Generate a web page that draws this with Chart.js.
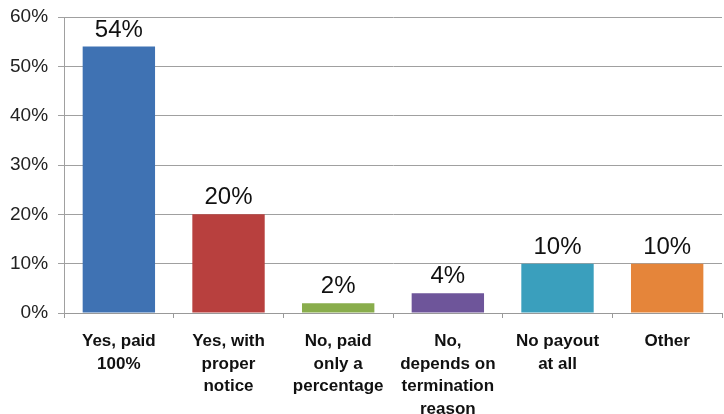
<!DOCTYPE html>
<html>
<head>
<meta charset="utf-8">
<script src="https://cdn.jsdelivr.net/npm/chart.js@4/dist/chart.umd.min.js"></script>
<style>
  html, body { margin: 0; padding: 0; background: #fff; }
  #wrap { width: 724px; height: 414px; }
</style>
</head>
<body>
<div id="wrap"><canvas id="myChart" width="724" height="414"></canvas></div>
<script>
  let categories = [
    ["Yes, paid", "100%"],
    ["Yes, with", "proper", "notice"],
    ["No, paid", "only a", "percentage"],
    ["No,", "depends on", "termination", "reason"],
    ["No payout", "at all"],
    ["Other"]
  ];
  let values = [54, 20, 2, 4, 10, 10];
  let barColors = ["#3f72b3", "#b8403e", "#89ad4c", "#6e559a", "#3a9fbd", "#e5853a"];
  let yTicks = [0, 10, 20, 30, 40, 50, 60];

  // draws the value above each bar
  let valueLabels = {
    id: "valueLabels",
    afterDatasetsDraw(chart) {
      let ctx = chart.ctx;
      let meta = chart.getDatasetMeta(0);
      ctx.save();
      ctx.font = "24px 'Liberation Sans', Arial, sans-serif";
      ctx.fillStyle = "#111";
      ctx.textAlign = "center";
      ctx.textBaseline = "alphabetic";
      meta.data.forEach(function (bar, i) {
        ctx.fillText(values[i] + "%", bar.x, bar.y - 10);
      });
      ctx.restore();
    }
  };

  let ctx = document.getElementById("myChart").getContext("2d");
  let chart = new Chart(ctx, {
    type: "bar",
    data: {
      labels: categories,
      datasets: [{
        data: values,
        backgroundColor: barColors,
        borderWidth: 0,
        categoryPercentage: 1,
        barPercentage: 0.66
      }]
    },
    options: {
      responsive: false,
      animation: false,
      layout: { padding: { top: 17, right: 2, left: 0, bottom: 0 } },
      plugins: { legend: { display: false }, tooltip: { enabled: false } },
      scales: {
        x: {
          afterFit: function (s) { s.height = 101; s.paddingBottom = 0; },
          grid: { drawOnChartArea: false, drawTicks: true, tickLength: 5, color: "#999", offset: true },
          border: { color: "#999" },
          ticks: {
            color: "#111",
            padding: 12,
            maxRotation: 0,
            autoSkip: false,
            font: { family: "'Liberation Sans', Arial, sans-serif", size: 17, weight: "bold", lineHeight: 1.33 }
          }
        },
        y: {
          min: 0,
          max: 60,
          afterFit: function (s) { s.paddingTop = 0; s.paddingBottom = 0; },
          afterBuildTicks: function (axis) {
            axis.ticks = yTicks.map(function (v) { return { value: v }; });
          },
          grid: { color: "#a0a0a0", drawTicks: true, tickLength: 6 },
          border: { color: "#a0a0a0" },
          ticks: {
            color: "#222",
            padding: 10,
            font: { family: "'Liberation Sans', Arial, sans-serif", size: 19 },
            callback: function (v) { return v + "%"; }
          }
        }
      }
    },
    plugins: [valueLabels]
  });
</script>
</body>
</html>
